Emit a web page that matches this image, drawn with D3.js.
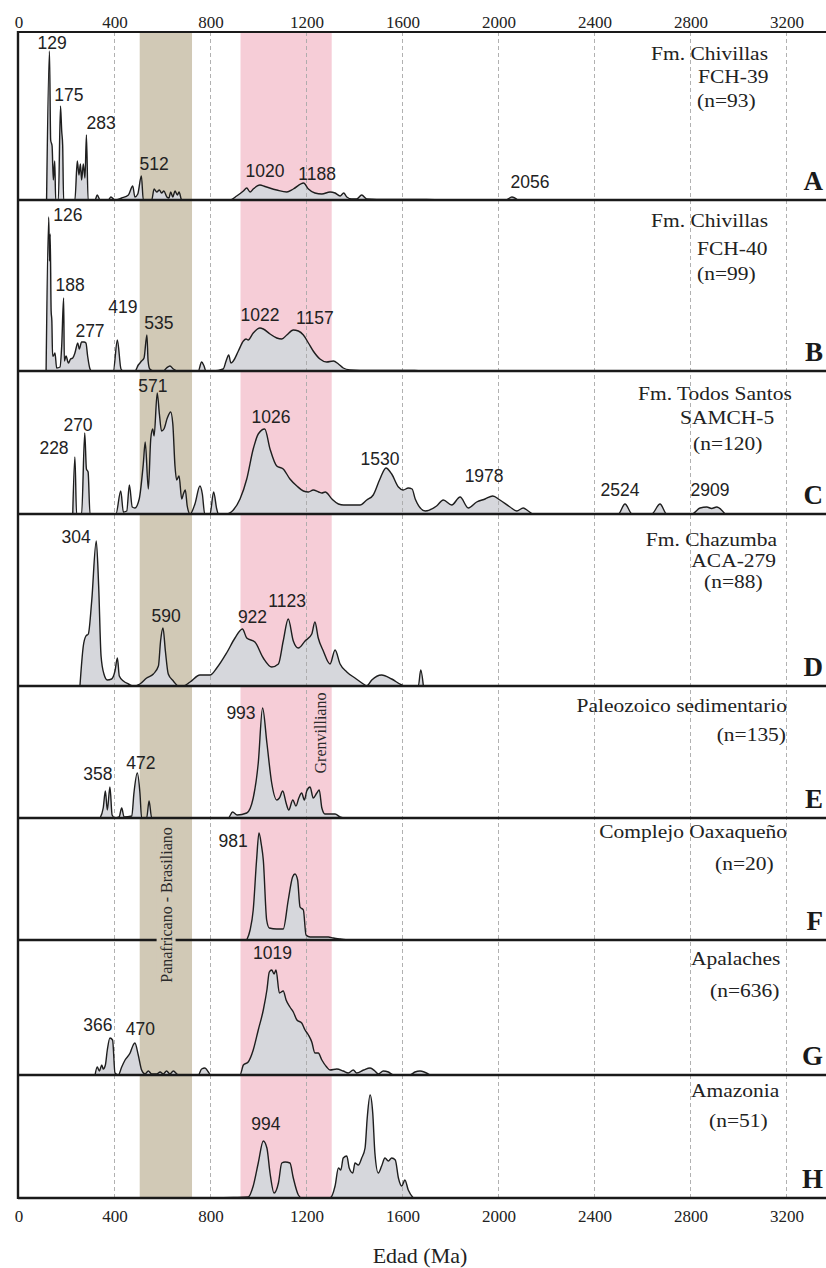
<!DOCTYPE html>
<html>
<head>
<meta charset="utf-8">
<script src="https://cdn.jsdelivr.net/npm/d3@7"></script>
<style>
    body { margin: 0; background: #fff; }
    svg { display: block; }
</style>
</head>
<body>
<svg id="chart"></svg>
<script>
// age axis
const tickValues = [0, 400, 800, 1200, 1600, 2000, 2400, 2800, 3200]

// shaded orogenic intervals (Ma)
const bandRanges = [[505, 723], [925, 1305]]
const bandNames = ['Panafricano - Brasiliano', 'Grenvilliano']

// probability density curves, [age Ma, relative probability]
const curveA = [[117,0],[129,149],[134,60],[140,54],[145,20],[151,39],[155,0],[166,0],[175,94],[180,69],[184,55],[188,0],[235,0],[245,39],[252,25],[258,36],[263,20],[270,36],[277,22],[283,65],[290,0],[319,0],[328,5],[340,0],[374,0],[385,3],[402,0],[430,2],[458,5],[476,14],[485,3],[497,6],[512,24],[520,0],[555,0],[565,11],[576,8],[587,10],[596,7],[606,9],[618,3],[627,2],[634,8],[643,3],[652,9],[662,5],[669,8],[680,0],[881,0],[909,4],[937,9],[951,12],[965,8],[978,11],[1006,15],[1027,13.5],[1076,10],[1118,8],[1145,11],[1188,17],[1208,11],[1235,7],[1264,6],[1298,8],[1319,7],[1340,4],[1355,7],[1368,3],[1388,1],[1409,1],[1430,5],[1451,1],[1493,0.5],[1700,0.5],[1800,0],[2030,0],[2056,3],[2080,0]]
const curveB = [[115,0],[126,154],[129,110],[132,137],[136,60],[139,50],[142,15],[145,15],[152,18],[159,3],[173,4],[180,25],[188,73],[191,10],[198,15],[208,8],[217,12],[226,13],[235,18],[247,28],[253,22],[263,29],[273,29],[281,28],[288,15],[298,2],[305,0],[395,0],[412,31],[427,2],[437,0],[485,0],[499,6],[513,10],[523,13],[535,36],[540,10],[547,2],[562,0],[603,0],[617,3],[631,5],[645,2],[666,0],[749,0],[763,9],[773,5],[781,0],[812,0],[853,2],[865,10],[876,16],[885,8],[895,10],[916,20],[937,30],[948,32],[957,31],[978,38],[1006,43],[1020,42],[1048,37],[1076,33],[1097,32],[1118,36],[1145,41],[1166,40],[1187,36],[1208,28],[1228,20],[1256,12],[1284,9],[1312,10],[1333,7],[1353,3],[1381,1],[1423,0.5],[1650,0.5],[1690,0]]
const curveC = [[226,0],[235,57],[242,0],[263,0],[276,81],[283,45],[290,42],[298,0],[406,0],[426,23],[437,2],[451,3],[462,29],[474,7],[485,6],[503,15],[520,50],[528,72],[541,25],[551,75],[559,85],[565,78],[578,121],[587,100],[596,83],[606,85],[620,96],[634,102],[643,90],[652,48],[659,34],[669,38],[680,15],[687,20],[695,24],[703,8],[715,0],[735,10],[756,28],[766,20],[776,0],[798,0],[813,22],[826,5],[833,0],[867,0],[895,4],[923,15],[951,35],[978,65],[999,80],[1026,85],[1048,65],[1076,48],[1103,45],[1131,35],[1160,28],[1187,23],[1208,22],[1228,24],[1251,22],[1264,21],[1278,22],[1306,15],[1333,10],[1355,9],[1395,9],[1423,9],[1451,14],[1478,19],[1506,35],[1531,46],[1555,40],[1583,27],[1603,24],[1624,26],[1640,25],[1653,15],[1695,3],[1742,8],[1770,14],[1805,9],[1840,17],[1874,6],[1909,12],[1944,15],[1976,18],[2006,14],[2048,7],[2076,3],[2103,6],[2124,3],[2145,0],[2499,0],[2527,10],[2557,0],[2638,0],[2673,10],[2701,0],[2805,0],[2840,6],[2868,7],[2888,5.5],[2909,7],[2944,0]]
const curveD = [[256,0],[270,40],[281,50],[291,52],[305,85],[324,145],[334,100],[344,30],[356,12],[370,6],[388,7],[402,15],[412,28],[420,10],[437,5],[458,2],[478,0],[506,2],[534,8],[562,12],[583,20],[592,45],[602,58],[612,35],[624,12],[645,5],[666,0],[687,0],[715,4],[756,11],[798,11],[826,18],[867,33],[902,48],[933,57],[951,48],[985,44],[1020,28],[1055,19],[1083,22],[1103,45],[1124,67],[1145,45],[1166,38],[1194,45],[1222,52],[1235,64],[1249,48],[1270,35],[1298,22],[1319,36],[1340,22],[1368,14],[1402,8],[1437,2],[1451,0],[1472,6],[1513,11],[1555,7],[1597,1],[1610,0],[1666,0],[1676,16],[1687,0]]
const curveE = [[340,0],[353,10],[362,27],[370,8],[381,31],[390,3],[402,0],[419,1],[430,10],[440,1],[472,2],[481,25],[495,45],[506,25],[513,0],[534,0],[544,17],[555,0],[874,0],[892,6],[911,3],[951,5],[978,20],[999,55],[1017,110],[1035,75],[1055,35],[1076,18],[1087,20],[1101,27],[1115,15],[1126,8],[1143,18],[1156,12],[1168,20],[1180,25],[1191,18],[1201,27],[1215,31],[1228,20],[1243,25],[1253,28],[1264,10],[1277,4],[1319,4],[1340,1],[1355,0]]
const curveF = [[951,0],[965,10],[978,30],[992,80],[1002,107],[1012,95],[1020,80],[1034,20],[1045,12],[1076,11],[1103,11],[1124,40],[1142,63],[1152,66],[1163,60],[1173,33],[1187,30],[1198,5],[1215,3],[1256,3],[1291,3],[1312,2],[1340,1],[1374,0]]
const curveG = [[319,0],[328,8],[337,4],[347,10],[353,6],[362,10],[370,25],[381,37],[392,35],[402,2],[416,0],[430,8],[444,15],[465,22],[478,30],[485,32],[499,20],[513,5],[527,1],[541,4],[555,1],[576,1],[590,3],[603,1],[617,4],[631,1],[645,4],[666,0],[749,0],[763,6],[777,7],[791,3],[801,0],[923,0],[937,10],[957,13],[978,25],[999,45],[1020,65],[1035,85],[1045,103],[1055,105],[1065,101],[1073,105],[1087,82],[1103,84],[1115,75],[1131,68],[1145,63],[1160,55],[1180,52],[1194,45],[1208,40],[1222,33],[1235,22],[1249,22],[1264,15],[1284,8],[1298,5],[1326,6],[1353,4],[1374,2],[1395,5],[1409,2],[1438,5],[1465,7],[1485,4],[1499,1],[1520,4],[1541,3],[1562,0],[1631,0],[1652,3],[1673,4],[1715,0]]
const curveH = [[811,0],[895,0.5],[957,1],[978,12],[999,35],[1020,57],[1035,50],[1048,25],[1065,5],[1083,15],[1097,35],[1111,36],[1131,35],[1145,20],[1166,3],[1180,0],[1298,0],[1319,12],[1333,30],[1343,28],[1353,40],[1368,42],[1378,30],[1393,25],[1402,35],[1416,33],[1430,40],[1444,50],[1453,80],[1465,103],[1476,85],[1485,45],[1499,25],[1513,32],[1527,40],[1541,37],[1555,40],[1570,38],[1583,20],[1597,12],[1610,18],[1624,8],[1645,0]]

// labelled peak ages
const peaksA = [129, 175, 283, 512, 1020, 1188, 2056]
const peaksB = [126, 188, 277, 419, 535, 1022, 1157]
const peaksC = [228, 270, 571, 1026, 1530, 1978, 2524, 2909]
const peaksD = [304, 590, 922, 1123]
const peaksE = [358, 472, 993]
const peaksF = [981]
const peaksG = [1019, 366, 470]
const peaksH = [994]

// sample names
const namesA = ['Fm. Chivillas', 'FCH-39', '(n=93)']
const namesB = ['Fm. Chivillas', 'FCH-40', '(n=99)']
const namesC = ['Fm. Todos Santos', 'SAMCH-5', '(n=120)']
const namesD = ['Fm. Chazumba', 'ACA-279', '(n=88)']
const namesE = ['Paleozoico sedimentario', '(n=135)']
const namesF = ['Complejo Oaxaqueño', '(n=20)']
const namesG = ['Apalaches', '(n=636)']
const namesH = ['Amazonia', '(n=51)']

// ---- layout (not data) ----
const WIDTH = 826
const HEIGHT = 1268
const FRAME_LEFT = 18
const FRAME_RIGHT = 826
const panelEdges = [32, 200, 371, 514, 686, 818, 940, 1075, 1198]

const SERIF = "'Liberation Serif', 'Times New Roman', serif"
const SANS = "'Liberation Sans', Arial, sans-serif"
const bandColors = ['#d1c9b6', '#f6cdd7']
const NAME_STRETCH = 1.13 // the sample names are set in a wide serif

// where each peak label sits: [age position, height above baseline]
const peakPos = [
    [[140,151],[210,99],[344,71],[565,30],[1027,23],[1244,20],[2131,12]],
    [[206,150],[215,80],[298,34],[435,58],[585,42],[1006,50],[1235,47]],
    [[148,60],[248,83],[560,122],[1052,91],[1506,49],[1940,32],[2506,18],[2881,18]],
    [[240,143],[615,64],[975,63],[1119,79]],
    [[331,38],[510,49],[927,99]],
    [[894,93]],
    [[1058,116],[331,44],[508,40]],
    [[1031,68]],
]

// sample name lines: [anchor, x, offset from panel top]
const namePos = [
    [['end',768,28],['start',698,51],['start',697,75]],
    [['end',768,27],['start',697,55],['start',697,80]],
    [['start',638,29],['start',680,53],['start',693,79]],
    [['end',777,32],['end',776,53],['start',704,74]],
    [['end',787,26],['end',786,55]],
    [['end',787,20],['start',715,52]],
    [['start',691,25],['start',710,57]],
    [['start',691,22],['start',709,52]],
]

const panels = [
    { curve: curveA, peaks: peaksA, names: namesA },
    { curve: curveB, peaks: peaksB, names: namesB },
    { curve: curveC, peaks: peaksC, names: namesC },
    { curve: curveD, peaks: peaksD, names: namesD },
    { curve: curveE, peaks: peaksE, names: namesE },
    { curve: curveF, peaks: peaksF, names: namesF },
    { curve: curveG, peaks: peaksG, names: namesG },
    { curve: curveH, peaks: peaksH, names: namesH },
]
const letters = 'ABCDEFGH'

const x = d3.scaleLinear().domain([0, 3200]).range([18.5, 786.5])
const plotTop = panelEdges[0]
const plotBottom = panelEdges[panelEdges.length - 1]

const svg = d3.select('#chart')
    .attr('width', WIDTH)
    .attr('height', HEIGHT)

svg.append('rect').attr('width', WIDTH).attr('height', HEIGHT).attr('fill', '#fff')

const bandGroup = svg.append('g')
const fillGroup = svg.append('g')
const gridGroup = svg.append('g')
const lineGroup = svg.append('g')
const frameGroup = svg.append('g')
const textGroup = svg.append('g')

bandGroup.selectAll('rect')
    .data(bandRanges)
    .join('rect')
    .attr('x', d => x(d[0]))
    .attr('width', d => x(d[1]) - x(d[0]))
    .attr('y', plotTop)
    .attr('height', plotBottom - plotTop)
    .attr('fill', (d, i) => bandColors[i])

gridGroup.selectAll('line')
    .data(tickValues.filter(d => d > 0))
    .join('line')
    .attr('x1', d => x(d)).attr('x2', d => x(d))
    .attr('y1', plotTop).attr('y2', plotBottom)
    .attr('stroke', '#a8a8a8')
    .attr('stroke-width', 0.9)
    .attr('stroke-dasharray', '4,3')

panels.forEach((p, i) => {
    const top = panelEdges[i]
    const base = panelEdges[i + 1]
    const y = d3.scaleLinear().domain([0, base - top]).range([base, top])

    const area = d3.area()
        .x(d => x(d[0]))
        .y0(base)
        .y1(d => y(d[1]))
        .curve(d3.curveMonotoneX)
    const line = d3.line()
        .x(d => x(d[0]))
        .y(d => y(d[1]))
        .curve(d3.curveMonotoneX)

    fillGroup.append('path')
        .datum(p.curve)
        .attr('d', area)
        .attr('fill', '#d6d7dc')

    lineGroup.append('path')
        .datum(p.curve)
        .attr('d', line)
        .attr('fill', 'none')
        .attr('stroke', '#1e1e1e')
        .attr('stroke-width', 1.4)
        .attr('stroke-linejoin', 'round')

    // panel baseline
    frameGroup.append('line')
        .attr('x1', FRAME_LEFT).attr('x2', FRAME_RIGHT)
        .attr('y1', base).attr('y2', base)
        .attr('stroke', '#1a1a1a')
        .attr('stroke-width', 2.6)

    // peak ages
    textGroup.append('g')
        .selectAll('text')
        .data(p.peaks)
        .join('text')
        .attr('x', (d, j) => x(peakPos[i][j][0]))
        .attr('y', (d, j) => y(peakPos[i][j][1]))
        .attr('text-anchor', 'middle')
        .attr('font-family', SANS)
        .attr('font-size', 17.5)
        .attr('fill', '#222')
        .text(d => d)

    // sample name
    textGroup.append('g')
        .selectAll('text')
        .data(p.names)
        .join('text')
        .attr('transform', (d, j) => `translate(${namePos[i][j][1]},${top + namePos[i][j][2]}) scale(${NAME_STRETCH},1)`)
        .attr('text-anchor', (d, j) => namePos[i][j][0])
        .attr('font-family', SERIF)
        .attr('font-size', 19)
        .attr('fill', '#222')
        .text(d => d)

    // panel letter
    textGroup.append('text')
        .attr('x', 823)
        .attr('y', base - 10)
        .attr('text-anchor', 'end')
        .attr('font-family', SERIF)
        .attr('font-weight', 'bold')
        .attr('font-size', 27)
        .attr('fill', '#1a1a1a')
        .text(letters[i])
})

// frame: top and left edges
frameGroup.append('line')
    .attr('x1', FRAME_LEFT - 1).attr('x2', FRAME_RIGHT)
    .attr('y1', plotTop).attr('y2', plotTop)
    .attr('stroke', '#1a1a1a').attr('stroke-width', 2.2)
frameGroup.append('line')
    .attr('x1', FRAME_LEFT).attr('x2', FRAME_LEFT)
    .attr('y1', plotTop - 1).attr('y2', plotBottom + 1)
    .attr('stroke', '#1a1a1a').attr('stroke-width', 2.4)

// band names, written vertically
const bandLabelPos = [[166, 905], [320.5, 733]]
bandNames.forEach((name, i) => {
    const [cx, cy] = bandLabelPos[i]
    const g = textGroup.append('g').attr('transform', `translate(${cx},${cy}) rotate(-90)`)
    const bg = g.append('rect').attr('fill', bandColors[i])
    const t = g.append('text')
        .attr('text-anchor', 'middle')
        .attr('dy', '0.35em')
        .attr('font-family', SERIF)
        .attr('font-size', 16)
        .attr('fill', '#2a2a2a')
        .text(name)
    if (i === 0) {
        const b = t.node().getBBox()
        bg.attr('x', b.x - 2).attr('y', b.y - 1).attr('width', b.width + 4).attr('height', b.height + 2)
    } else {
        bg.remove()
    }
})

// axes
const styleAxis = g => {
    g.select('.domain').remove()
    g.attr('font-family', SERIF).attr('font-size', 17).style('color', '#222')
}
svg.append('g')
    .attr('transform', `translate(0,${plotTop})`)
    .call(d3.axisTop(x).tickValues(tickValues).tickSize(0).tickPadding(4).tickFormat(d3.format('d')))
    .call(styleAxis)
svg.append('g')
    .attr('transform', `translate(0,${plotBottom})`)
    .call(d3.axisBottom(x).tickValues(tickValues).tickSize(0).tickPadding(12).tickFormat(d3.format('d')))
    .call(styleAxis)

svg.append('text')
    .attr('x', 420)
    .attr('y', 1263)
    .attr('text-anchor', 'middle')
    .attr('font-family', SERIF)
    .attr('font-size', 22)
    .attr('fill', '#222')
    .text('Edad (Ma)')
</script>
</body>
</html>
